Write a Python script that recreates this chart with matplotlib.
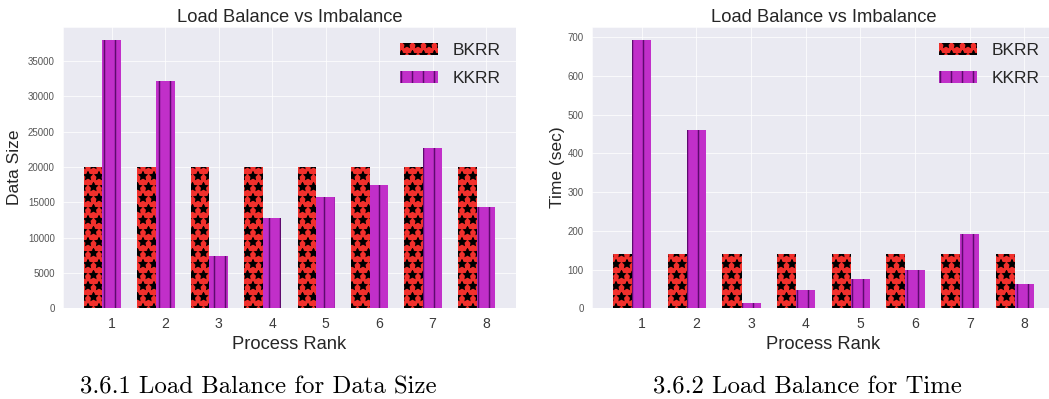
import matplotlib
matplotlib.use("Agg")
import matplotlib.pyplot as pl
import numpy as np
import seaborn as sns

ranks = [1, 2, 3, 4, 5, 6, 7, 8]
seriesNames = ["BKRR", "KKRR"]
bkrrDataSize = [20000, 20000, 20000, 20000, 20000, 20000, 20000, 20000]
kkrrDataSize = [37900, 32150, 7430, 12780, 15750, 17500, 22700, 14330]
bkrrTime = [139, 139, 139, 139, 139, 139, 139, 139]
kkrrTime = [692, 460, 14, 48, 76, 100, 191, 62]
panelTitle = "Load Balance vs Imbalance"
xLabel = "Process Rank"
yLabels = ["Data Size", "Time (sec)"]
captions = ["3.6.1 Load Balance for Data Size", "3.6.2 Load Balance for Time"]

DPI = 66
WIDTH = 0.35
RED = "#f2302c"
MAGENTA = "#c12fc9"
PURPLE = "#5e0a6e"

sns.set_style("darkgrid")
pl.rcParams["font.family"] = ["Liberation Sans", "DejaVu Sans"]
pl.rcParams["hatch.linewidth"] = 1.6

def drawPanel(axes, bkrr, kkrr, yLabel, labelpad):
	ind = np.array(ranks)
	axes.bar(ind - WIDTH, bkrr, WIDTH, color=RED, edgecolor="black", linewidth=0,
				hatch="*", label=seriesNames[0])
	axes.bar(ind, kkrr, WIDTH, color=MAGENTA, edgecolor=PURPLE, linewidth=0,
				hatch="|", label=seriesNames[1])
	axes.set_xticks(ranks)
	axes.tick_params(axis="x", labelsize=15.3, pad=6, colors="#3a3a3a")
	axes.tick_params(axis="y", labelsize=10.6, pad=5.5, colors="#555555")
	axes.set_title(panelTitle, fontsize=20, color="#262626")
	axes.set_xlabel(xLabel, fontsize=20, color="#262626", labelpad=5)
	axes.set_ylabel(yLabel, fontsize=19, color="#262626", labelpad=labelpad)
	axes.legend(loc="upper right", fontsize=18.9, frameon=False, handlelength=2.2,
				handletextpad=0.85, labelspacing=0.75)

figure = pl.figure(figsize=(1049 / DPI, 399 / DPI), dpi=DPI)
leftAxes = figure.add_axes([63 / 1049, 1 - 308.3 / 399, 453 / 1049, 281.3 / 399])
rightAxes = figure.add_axes([592 / 1049, 1 - 308.3 / 399, 463 / 1049, 281.3 / 399])

drawPanel(leftAxes, bkrrDataSize, kkrrDataSize, yLabels[0], 6)
drawPanel(rightAxes, bkrrTime, kkrrTime, yLabels[1], 3)

figure.text(258 / 1049, 1 - 393 / 399, captions[0], fontsize=27, family="cmr10",
			ha="center", va="baseline", color="black")
figure.text(807 / 1049, 1 - 393 / 399, captions[1], fontsize=27, family="cmr10",
			ha="center", va="baseline", color="black")

figure.savefig("out.png", dpi=DPI, facecolor="white")
pl.close(figure)
